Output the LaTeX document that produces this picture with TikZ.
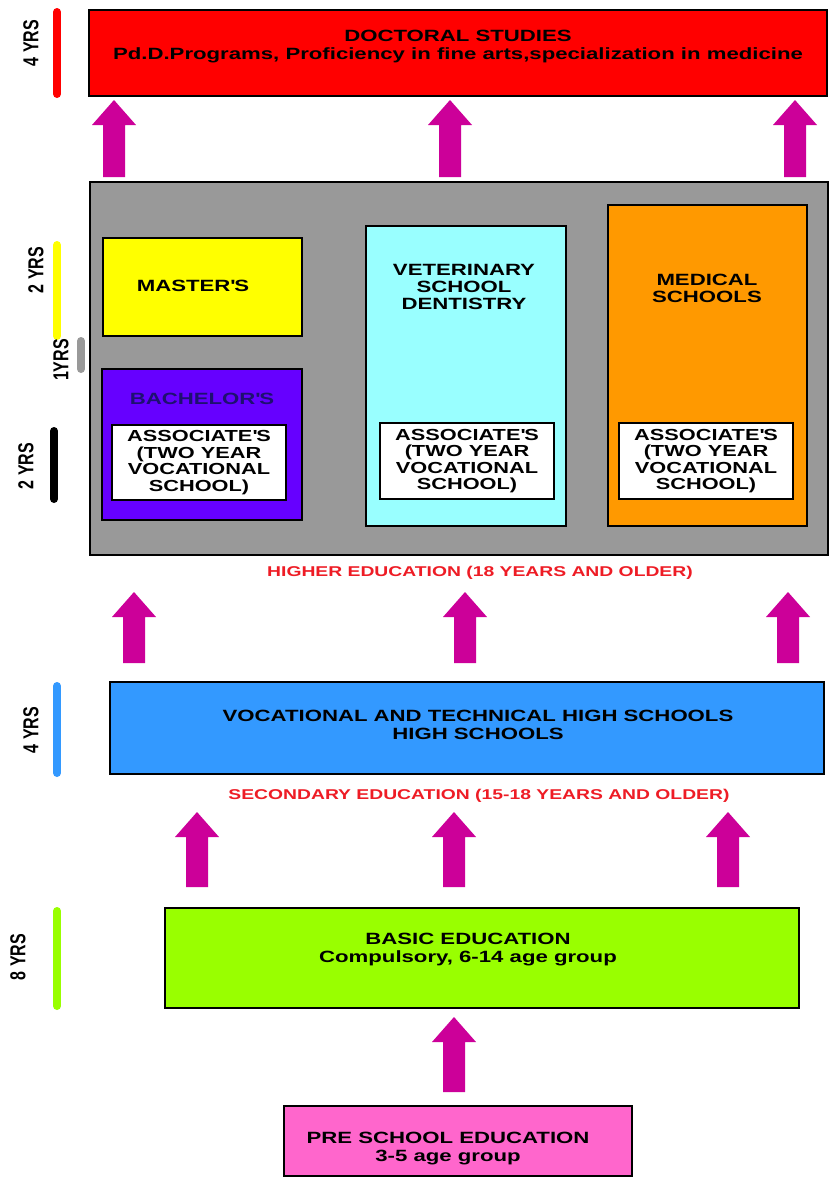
\documentclass[tikz,border=0pt]{standalone}
\usepackage{fontspec}
\usepackage{graphicx}
\setmainfont{Liberation Sans}[FakeStretch=1.36]
\newfontfamily\labfont{Liberation Sans}
\usetikzlibrary{calc}
\definecolor{docred}{HTML}{FF0000}
\definecolor{greybg}{HTML}{999999}
\definecolor{mastery}{HTML}{FFFF00}
\definecolor{bachp}{HTML}{6600FF}
\definecolor{bachtxt}{HTML}{1E1070}
\definecolor{vetc}{HTML}{99FFFF}
\definecolor{medo}{HTML}{FF9900}
\definecolor{hsblue}{HTML}{3399FF}
\definecolor{basicg}{HTML}{99FF00}
\definecolor{prep}{HTML}{FF66CC}
\definecolor{arrowc}{HTML}{CC0099}
\definecolor{labred}{HTML}{EE1C25}
\newcommand\apo{\textquotesingle}
\newcommand\blockarr[4]{%
  \coordinate (#1-b) at (#2,#4);
  \coordinate (#1-t) at (#2,#3);
  \fill[arrowc] ($(#1-b)+(-11,0)$) -- ($(#1-t)+(-11,25)$) -- ($(#1-t)+(-22,25)$) -- (#1-t)
    -- ($(#1-t)+(22,25)$) -- ($(#1-t)+(11,25)$) -- ($(#1-b)+(11,0)$) -- cycle;
}
\begin{document}
\begin{tikzpicture}[x=1pt,y=-1pt,
  box/.style={draw=black,line width=2pt,inner sep=0pt,rectangle},
  txt/.style={font=\bfseries\fontsize{16.3}{18}\selectfont,align=center,inner sep=0pt},
  atxt/.style={font=\bfseries\fontsize{16}{16.5}\selectfont,align=center},
  sec/.style={font=\bfseries\fontsize{14.2}{16}\selectfont,text=labred,inner sep=0pt},
  bar/.style={line width=8pt,line cap=round},
  yrs/.style={font=\labfont\bfseries\fontsize{16}{17}\selectfont,rotate=90,inner sep=0pt}]
\useasboundingbox (0,0) rectangle (831,1184);
\fill[white] (0,0) rectangle (831,1184);

% boxes
\node[box,fill=docred,minimum width=738,minimum height=86] (doc) at (458,53) {};
\node[box,fill=greybg,minimum width=738,minimum height=373] (grey) at (459,368.5) {};
\node[box,fill=mastery,minimum width=199,minimum height=98] (master) at (202.5,287) {};
\node[box,fill=bachp,minimum width=200,minimum height=151] (bach) at (202,444.5) {};
\node[box,fill=vetc,minimum width=200,minimum height=300] (vet) at (466,376) {};
\node[box,fill=medo,minimum width=199,minimum height=321] (med) at (707.5,365.5) {};
\node[box,fill=white,minimum width=174,minimum height=75,atxt] (as1) at (199,462.5) {ASSOCIATE\apo S\\(TWO YEAR\\VOCATIONAL\\SCHOOL)};
\node[box,fill=white,minimum width=174,minimum height=76,atxt] (as2) at (467,461) {ASSOCIATE\apo S\\(TWO YEAR\\VOCATIONAL\\SCHOOL)};
\node[box,fill=white,minimum width=174,minimum height=76,atxt] (as3) at (706,461) {ASSOCIATE\apo S\\(TWO YEAR\\VOCATIONAL\\SCHOOL)};
\node[box,fill=hsblue,minimum width=714,minimum height=92] (blue) at (467,728) {};
\node[box,fill=basicg,minimum width=634,minimum height=100] (basic) at (482,958) {};
\node[box,fill=prep,minimum width=348,minimum height=70] (pre) at (458,1141) {};

% texts
\node[txt] (doct) at (458,47) {DOCTORAL STUDIES\\Pd.D.Programs, Proficiency in fine arts,specialization in medicine};
\node[txt] (mastt) at (193,286) {MASTER\apo S};
\node[txt,text=bachtxt] (bacht) at (202,399) {BACHELOR\apo S};
\node[txt,font=\bfseries\fontsize{16.3}{17}\selectfont] (vett) at (464,287) {VETERINARY\\SCHOOL\\DENTISTRY};
\node[txt,font=\bfseries\fontsize{16.3}{17}\selectfont] (medt) at (707,288.5) {MEDICAL\\SCHOOLS};
\node[sec] (higher) at (480,573) {HIGHER EDUCATION (18 YEARS AND OLDER)};
\node[txt] (bluet) at (478,724.5) {VOCATIONAL AND TECHNICAL HIGH SCHOOLS\\HIGH SCHOOLS};
\node[sec] (second) at (479,796) {SECONDARY EDUCATION (15-18 YEARS AND OLDER)};
\node[txt] (basict) at (468,950) {BASIC EDUCATION\\Compulsory, 6-14 age group};
\node[txt] (pret) at (448,1148.5) {PRE SCHOOL EDUCATION\\3-5 age group};

% arrows
\blockarr{a1}{114}{100}{177}
\blockarr{a2}{450}{100}{177}
\blockarr{a3}{795}{100}{177}
\blockarr{a4}{134}{592}{663}
\blockarr{a5}{465}{592}{663}
\blockarr{a6}{788}{592}{663}
\blockarr{a7}{197}{812}{887}
\blockarr{a8}{454}{812}{887}
\blockarr{a9}{728}{812}{887}
\blockarr{a10}{454}{1017}{1092}

% year bars
\draw[bar,docred] (57,12) -- (57,94);
\draw[bar,mastery] (57,245) -- (57,336);
\draw[bar,greybg] (81,341) -- (81,369);
\draw[bar,black] (54,431) -- (54,499);
\draw[bar,hsblue] (57,686) -- (57,773);
\draw[bar,basicg] (57,911) -- (57,1006);

% year labels
\node[yrs] (y1) at (31,43) {\scalebox{1}[1.35]{4 YRS}};
\node[yrs] (y2) at (36,270) {\scalebox{1}[1.35]{2 YRS}};
\node[yrs] (y3) at (61,360) {\scalebox{1}[1.35]{1YRS}};
\node[yrs] (y4) at (26,466) {\scalebox{1}[1.35]{2 YRS}};
\node[yrs] (y5) at (31,730) {\scalebox{1}[1.35]{4 YRS}};
\node[yrs] (y6) at (18,957) {\scalebox{1}[1.35]{8 YRS}};
\end{tikzpicture}
\end{document}
